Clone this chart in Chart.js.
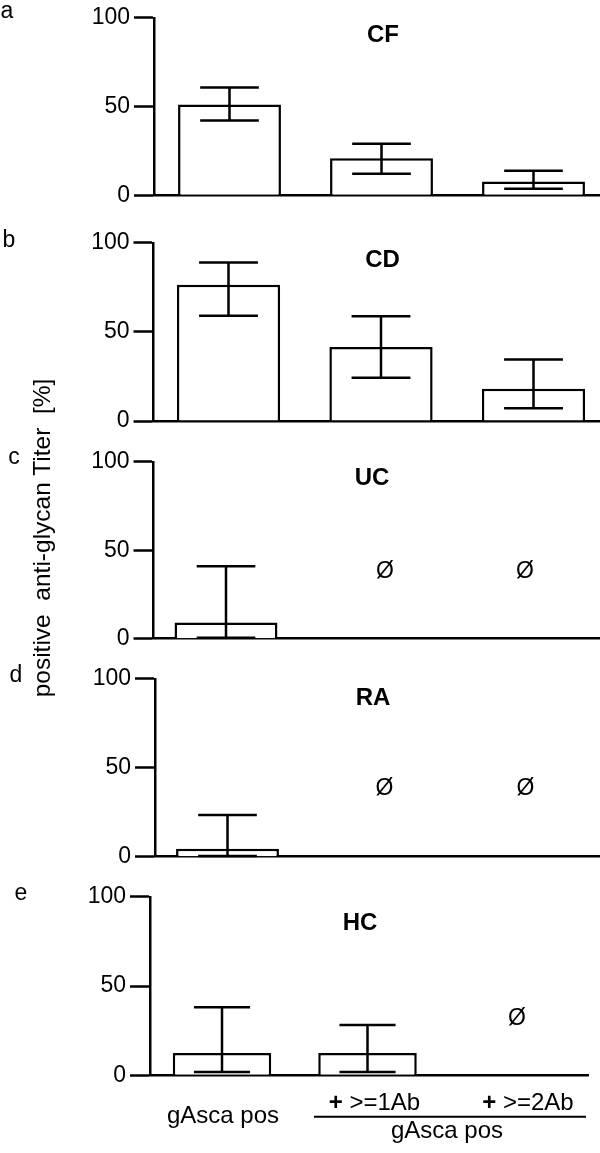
<!DOCTYPE html>
<html><head><meta charset="utf-8">
<script src="https://cdn.jsdelivr.net/npm/chart.js@4.4.0/dist/chart.umd.min.js"></script>
<style>
html,body{margin:0;padding:0;background:#fff;}
#wrap{position:relative;width:600px;height:1153px;overflow:hidden;font-family:'Liberation Sans',Arial,sans-serif;color:#000;}
#wrap canvas{position:absolute;left:0;}
.t{position:absolute;transform:translate(-50%,-50%);white-space:pre;line-height:1;font-size:23px;}
.b{font-weight:bold;font-size:24px;}
.ytitle{position:absolute;transform:translate(-50%,-50%) rotate(-90deg);white-space:pre;line-height:1;font-size:24.5px;}
</style></head><body>
<div id="wrap"></div>
<script>
// ---- data ----
const categories = ['gAsca pos', '+ >=1Ab', '+ >=2Ab'];
const groupLabel = 'gAsca pos';
const yTicks = [0, 50, 100];
const yTitle = 'positive  anti-glycan Titer  [%]';

const cfValues = [51.1, 20.9, 7.8];
const cfLower  = [42.1, 12.2, 3.7];
const cfUpper  = [60.8, 29.0, 13.9];

const cdValues = [76.5, 41.5, 18.1];
const cdLower  = [59.0, 24.3, 7.2];
const cdUpper  = [88.9, 58.8, 34.5];

const ucValues = [9.1, null, null];
const ucLower  = [0.6, null, null];
const ucUpper  = [40.9, null, null];

const raValues = [4.4, null, null];
const raLower  = [0.4, null, null];
const raUpper  = [23.5, null, null];

const hcValues = [12.5, 12.5, null];
const hcLower  = [1.8, 1.8, null];
const hcUpper  = [38.1, 28.2, null];

// "no data" marker (Ø) for the empty groups
const ucEmpty = [false, true, true];
const raEmpty = [false, true, true];
const hcEmpty = [false, false, true];

// ---- layout ----
const FONT = "'Liberation Sans', Arial, sans-serif";
Chart.defaults.font.family = FONT;
Chart.defaults.color = '#000';

const panels = [
  {letter:'a', title:'CF', values:cfValues, lower:cfLower, upper:cfUpper, empty:[false,false,false],
   t100:15, t0:195.3, axisX:154, center0:229.5, spacing:152, right:600,
   letterPos:[7,10], titlePos:[383,34], emptyY:38, emptyDx:[0,0,0]},
  {letter:'b', title:'CD', values:cdValues, lower:cdLower, upper:cdUpper, empty:[false,false,false],
   t100:240.3, t0:421, axisX:153.5, center0:228.5, spacing:152.5, right:600,
   letterPos:[9,239], titlePos:[382.5,259], emptyY:38, emptyDx:[0,0,0]},
  {letter:'c', title:'UC', values:ucValues, lower:ucLower, upper:ucUpper, empty:ucEmpty,
   t100:459.3, t0:638.7, axisX:153.5, center0:226, spacing:152, right:600,
   letterPos:[14,456], titlePos:[372,477.3], emptyY:38, emptyDx:[0,7,-5]},
  {letter:'d', title:'RA', values:raValues, lower:raLower, upper:raUpper, empty:raEmpty,
   t100:676.7, t0:856.7, axisX:155, center0:227.5, spacing:152, right:600,
   letterPos:[16,674], titlePos:[373,696.7], emptyY:38.3, emptyDx:[0,5,-6]},
  {letter:'e', title:'HC', values:hcValues, lower:hcLower, upper:hcUpper, empty:hcEmpty,
   t100:894.3, t0:1075.3, axisX:150, center0:222, spacing:145.5, right:588, bottom:1153,
   letterPos:[21,892], titlePos:[360,921.7], emptyY:31.8, emptyDx:[0,0,4], xLabels:true}
];

const wrap = document.getElementById('wrap');

const errorBarPlugin = {
  id: 'errorBars',
  afterDatasetsDraw(chart, args, o) {
    const ctx = chart.ctx;
    const xs = chart.scales.x, ys = chart.scales.y;
    const meta = chart.getDatasetMeta(0);
    ctx.save();
    ctx.strokeStyle = '#000';
    ctx.lineWidth = 2.5;
    ctx.lineCap = 'butt';
    meta.data.forEach((bar, i) => {
      const lo = o.lower[i], hi = o.upper[i];
      if (lo == null || hi == null) return;
      const x = bar.x;
      const half = bar.width * 0.285;
      const yl = ys.getPixelForValue(lo), yh = ys.getPixelForValue(hi);
      ctx.beginPath();
      ctx.moveTo(x, yl); ctx.lineTo(x, yh);
      ctx.moveTo(x - half, yl); ctx.lineTo(x + half, yl);
      ctx.moveTo(x - half, yh); ctx.lineTo(x + half, yh);
      ctx.stroke();
    });
    // Ø markers for groups without data
    ctx.fillStyle = '#000';
    ctx.font = '23px ' + FONT;
    ctx.textAlign = 'center';
    ctx.textBaseline = 'middle';
    o.empty.forEach((e, i) => {
      if (!e) return;
      ctx.fillText('\u00D8', xs.getPixelForValue(i) + o.emptyDx[i], ys.getPixelForValue(o.emptyY));
    });
    // category labels (last panel only)
    if (o.xLabels) {
      const base = ys.getPixelForValue(0);
      const F = '24px ' + FONT, FB = 'bold 24px ' + FONT;
      ctx.textBaseline = 'alphabetic';
      ctx.textAlign = 'center';
      ctx.font = F;
      ctx.fillText(categories[0], xs.getPixelForValue(0) + 1, base + 48);
      const offs = [0, 7, 15];
      for (let i = 1; i < categories.length; i++) {
        const plus = categories[i].slice(0, 1);
        const rest = categories[i].slice(1);
        ctx.font = FB;
        const wp = ctx.measureText(plus).width;
        ctx.font = F;
        const wr = ctx.measureText(rest).width;
        const cx = xs.getPixelForValue(i) + offs[i];
        const x0 = cx - (wp + wr) / 2;
        ctx.textAlign = 'left';
        ctx.font = FB;
        ctx.fillText(plus, x0, base + 34.7);
        ctx.font = F;
        ctx.fillText(rest, x0 + wp, base + 34.7);
      }
      // group bracket line and label
      ctx.lineWidth = 2;
      ctx.beginPath();
      ctx.moveTo(314, base + 41.4);
      ctx.lineTo(586, base + 41.4);
      ctx.stroke();
      ctx.textAlign = 'center';
      ctx.font = F;
      ctx.fillText(groupLabel, 447, base + 62.2);
    }
    ctx.restore();
  }
};

panels.forEach(p => {
  const top = Math.floor(p.t100) - 15;
  const padTop = p.t100 - top;
  const plotH = p.t0 - p.t100;
  const bottomEdge = p.bottom ? p.bottom : Math.ceil(p.t0 + 20);
  const height = bottomEdge - top;
  const padBottom = height - padTop - plotH;
  const canvas = document.createElement('canvas');
  canvas.width = 600; canvas.height = height;
  canvas.style.top = top + 'px';
  canvas.style.width = '600px'; canvas.style.height = height + 'px';
  wrap.appendChild(canvas);

  const xmin = -(p.center0 - p.axisX) / p.spacing;
  const xmax = xmin + (p.right - p.axisX) / p.spacing;

  new Chart(canvas.getContext('2d'), {
    type: 'bar',
    data: {
      datasets: [{
        data: p.values.map((v, i) => ({x: i, y: v})),
        backgroundColor: '#fff',
        borderColor: '#000',
        borderWidth: 2.5,
        borderSkipped: 'bottom',
        categoryPercentage: 1,
        barPercentage: 0.677
      }]
    },
    options: {
      responsive: false,
      animation: false,
      events: [],
      layout: {padding: {top: padTop, bottom: padBottom, left: 0, right: 600 - p.right}},
      plugins: {
        legend: {display: false},
        tooltip: {enabled: false},
        errorBars: {lower: p.lower, upper: p.upper, empty: p.empty, emptyY: p.emptyY, emptyDx: p.emptyDx, xLabels: !!p.xLabels}
      },
      scales: {
        x: {
          type: 'linear', min: xmin, max: xmax, bounds: 'data', offset: false, z: 1,
          afterBuildTicks(s) { s.ticks = categories.map((c, i) => ({value: i})); },
          ticks: {display: false},
          grid: {display: false, offset: false},
          border: {display: true, color: '#000', width: 2.5},
          afterFit(s) { s.height = 0; }
        },
        y: {
          min: 0, max: 100,
          afterBuildTicks(s) { s.ticks = yTicks.map(v => ({value: v})); },
          ticks: {font: {size: 23}, color: '#000', padding: 4},
          grid: {drawOnChartArea: false, drawTicks: true, tickLength: 20, tickColor: '#000', tickWidth: 2.5},
          border: {display: true, color: '#000', width: 2.5},
          afterFit(s) { s.width = p.axisX; }
        }
      }
    },
    plugins: [errorBarPlugin]
  });

  const L = document.createElement('div');
  L.className = 't';
  L.textContent = p.letter;
  L.style.left = p.letterPos[0] + 'px';
  L.style.top = p.letterPos[1] + 'px';
  wrap.appendChild(L);

  const T = document.createElement('div');
  T.className = 't b';
  T.textContent = p.title;
  T.style.left = p.titlePos[0] + 'px';
  T.style.top = p.titlePos[1] + 'px';
  wrap.appendChild(T);
});

const Y = document.createElement('div');
Y.className = 'ytitle';
Y.textContent = yTitle;
Y.style.left = '42px';
Y.style.top = '537.5px';
wrap.appendChild(Y);
</script>
</body></html>
